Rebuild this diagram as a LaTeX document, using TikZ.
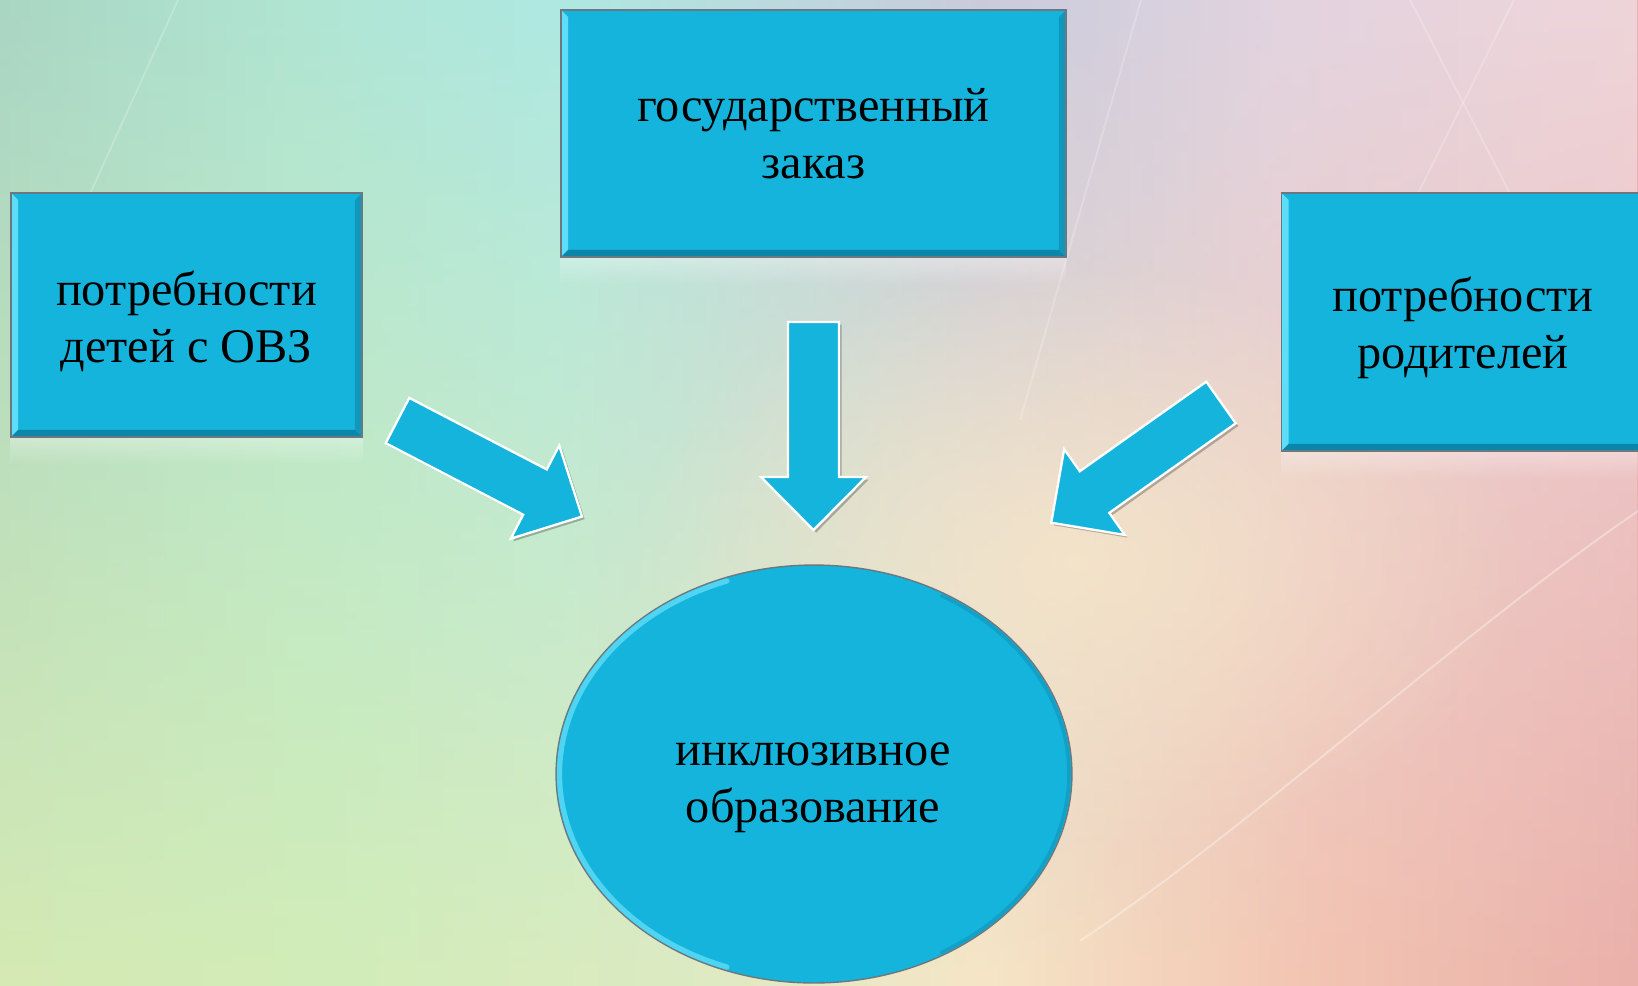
\documentclass[tikz,border=0pt]{standalone}
\usepackage{fontspec}
\setmainfont{Liberation Serif}
\usetikzlibrary{shapes.geometric,fadings}

\definecolor{boxblue}{HTML}{15B4DC}
\definecolor{bevellight}{HTML}{5EDDF8}
\definecolor{beveldark}{HTML}{0B86A8}
\definecolor{edgegray}{HTML}{6C7880}
% background colours, top row and bottom row
\definecolor{bgtA}{HTML}{A9D6C4}
\definecolor{bgtB}{HTML}{B0E5D3}
\definecolor{bgtC}{HTML}{AEE8E2}
\definecolor{bgtD}{HTML}{C9CBDD}
\definecolor{bgtE}{HTML}{E2D4E0}
\definecolor{bgtF}{HTML}{EFD5DA}
\definecolor{bgbA}{HTML}{D5EAB4}
\definecolor{bgbB}{HTML}{D2EDB8}
\definecolor{bgbC}{HTML}{DDEBC2}
\definecolor{bgbD}{HTML}{F6E6C6}
\definecolor{bgbE}{HTML}{F3C4B2}
\definecolor{bgbF}{HTML}{EAB0AA}
\definecolor{bgglow}{HTML}{F8E8C8}

\pgfdeclarehorizontalshading{bgtop}{100bp}{color(0bp)=(bgtA); color(25bp)=(bgtA); color(34bp)=(bgtB); color(42bp)=(bgtC); color(55bp)=(bgtD); color(64bp)=(bgtE); color(75bp)=(bgtF); color(100bp)=(bgtF)}
\pgfdeclarehorizontalshading{bgbot}{100bp}{color(0bp)=(bgbA); color(25bp)=(bgbA); color(35bp)=(bgbB); color(46bp)=(bgbC); color(55bp)=(bgbD); color(65bp)=(bgbE); color(75bp)=(bgbF); color(100bp)=(bgbF)}
\tikzfading[name=softglow, inner color=transparent!25, outer color=transparent!100]

\newcommand{\schemefont}{\fontsize{27.5pt}{32.5pt}\selectfont}

\tikzset{
  bevelbox/.style={rectangle, draw=edgegray, line width=0.8pt, fill=boxblue,
    inner sep=0pt, align=center, font=\schemefont,
    path picture={
      \fill[bevellight] (path picture bounding box.north west) -- (path picture bounding box.south west)
        -- ([shift={(4pt,4pt)}]path picture bounding box.south west) -- ([shift={(4pt,-4pt)}]path picture bounding box.north west) -- cycle;
      \fill[beveldark] (path picture bounding box.south west) -- (path picture bounding box.south east)
        -- ([shift={(-4pt,4pt)}]path picture bounding box.south east) -- ([shift={(4pt,4pt)}]path picture bounding box.south west) -- cycle;
      \fill[beveldark, opacity=.6] (path picture bounding box.south east) -- (path picture bounding box.north east)
        -- ([shift={(-4pt,-4pt)}]path picture bounding box.north east) -- ([shift={(-4pt,4pt)}]path picture bounding box.south east) -- cycle;
    }},
  bevelellipse/.style={ellipse, draw=edgegray, line width=0.8pt, fill=boxblue, inner sep=0pt},
  label text/.style={align=center, font=\schemefont, inner sep=0pt},
  arrowbody/.style={fill=boxblue, draw=white, line width=1.3pt, line join=miter},
  arrowshadow/.style={fill=black, opacity=.25},
  reflex/.style={fill=white, opacity=.3, path fading=south},
  bgline/.style={draw=white, opacity=.22, line width=1.1pt},
}

% block arrow: tail at #1, turned by #2
\newcommand{\blockarrow}[2]{%
  \fill[arrowshadow, shift={(#1)}, xshift=1.5pt, yshift=-1.5pt, rotate=#2]
    (0,25.5) -- (155,25.5) -- (155,52.5) -- (208,0) -- (155,-52.5) -- (155,-25.5) -- (0,-25.5) -- cycle;
  \draw[arrowbody, shift={(#1)}, rotate=#2]
    (0,25.5) -- (155,25.5) -- (155,52.5) -- (208,0) -- (155,-52.5) -- (155,-25.5) -- (0,-25.5) -- cycle;
}

\begin{document}
\begin{tikzpicture}[x=0.02cm, y=-0.02cm]
	\useasboundingbox (0,0) rectangle (1638,985);
	% background
	\shade[shading=bgbot] (0,0) rectangle (1638,985);
	\shade[shading=bgtop, path fading=south] (0,0) rectangle (1638,985);
	\fill[bgglow, path fading=softglow] (1080,560) ellipse (9cm and 6cm);
	\draw[bgline] (1410,0) -- (1565,300);
	\draw[bgline] (1514,0) -- (1365,300);
	\draw[bgline] (1141,0) -- (1020,420);
	\draw[bgline] (178,0) -- (60,260);
	\draw[bgline, opacity=.35] (1080,941) .. controls (1260,820) and (1450,640) .. (1638,511);

	% boxes
	\node[bevelbox, minimum width=10.1cm, minimum height=4.94cm] (zakaz) at (813.5,133.5) {государственный\\заказ};
	\node[bevelbox, minimum width=7.02cm, minimum height=4.88cm] (deti) at (186.5,315) {};
	\node[label text] (detitext) at (186.5,321) {потребности\\детей с ОВЗ};
	\node[bevelbox, minimum width=7.3cm, minimum height=5.16cm] (roditeli) at (1464,322) {};
	\node[label text] (roditelitext) at (1463,328) {потребности\\родителей};
	\fill[reflex] (zakaz.south west) rectangle ([shift={(0,28)}]zakaz.south east);
	\fill[reflex] (deti.south west) rectangle ([shift={(0,28)}]deti.south east);
	\fill[reflex] (roditeli.south west) rectangle ([shift={(0,28)}]roditeli.south east);

	% centre
	\node[bevelellipse, minimum width=10.32cm, minimum height=8.36cm] (inkl) at (814,774) {};
	\draw[bevellight, line width=3pt, line cap=round, opacity=.8] (inkl.center) ++(110:5.09cm and 4.11cm) arc[start angle=110, end angle=250, x radius=5.09cm, y radius=4.11cm];
	\draw[beveldark, opacity=.4, line width=2pt, line cap=round] (inkl.center) ++(-60:5.1cm and 4.12cm) arc[start angle=-60, end angle=60, x radius=5.1cm, y radius=4.12cm];
	\node[label text] (inkltext) at (813,788) {инклюзивное\\образование};

	% arrows
	\coordinate (tailL) at (397.5,420.5);
	\coordinate (tailM) at (813.5,322);
	\coordinate (tailR) at (1221,402.5);
	\blockarrow{tailL}{-27.5}
	\blockarrow{tailM}{-90}
	\blockarrow{tailR}{-144.7}
\end{tikzpicture}
\end{document}
